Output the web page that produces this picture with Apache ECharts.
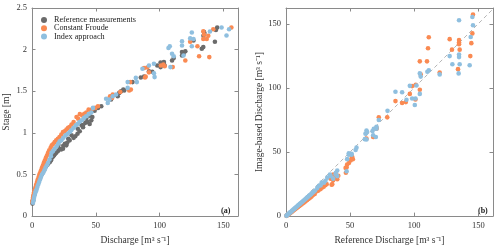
<!DOCTYPE html>
<html>
<head>
<meta charset="utf-8">
<script src="https://cdn.jsdelivr.net/npm/echarts@6/dist/echarts.min.js"></script>
<style>
html,body{margin:0;padding:0;background:#fff;}
#chart{width:500px;height:250px;}
</style>
</head>
<body>
<div id="chart"></div>
<script>
// ---------- Panel (a): stage vs discharge ----------
const refQ = [0.4,0.6,0.7,0.9,1.0,1.2,1.4,1.7,2.0,2.3,2.7,3.1,3.6,4.1,4.7,5.3,5.9,6.6,7.2,7.9,8.7,9.4,10.1,11.0,11.4,12.2,13.1,14.0,14.9,15.6,16.5,17.3,18.1,19.0,20.2,21.7,20.7,22.8,24.3,24.5,25.8,26.9,27.6,28.4,29.5,31.0,32.6,33.9,35.7,35.9,37.4,38.8,39.8,40.0,41.8,42.6,43.6,45.2,45.2,46.5,47.3,
  49.1,51.7,54.3,62.0,67.2,68.4,69.8,71.6,72.3,78.8,85.3,87.9,91.7,94.3,98.2,100.8,100.8,103.4,103.9,103.4,109.8,111.1,117.6,117.6,118.8,120.2,126.6,133.1,134.3,134.4,135.1,134.9,143.4,144.2,145.2];
const refH = [0.15,0.17,0.19,0.18,0.21,0.22,0.24,0.26,0.28,0.30,0.32,0.34,0.36,0.38,0.40,0.43,0.45,0.47,0.49,0.51,0.53,0.55,0.58,0.60,0.61,0.62,0.64,0.65,0.67,0.70,0.715,0.73,0.75,0.76,0.78,0.81,0.853,0.80,0.81,0.845,0.87,0.85,0.88,0.93,0.91,0.97,0.94,0.96,0.99,1.05,1.02,1.095,1.09,1.068,1.12,1.17,1.13,1.107,1.206,1.15,1.19,
  1.265,1.30,1.32,1.40,1.44,1.48,1.50,1.52,1.51,1.61,1.665,1.676,1.74,1.735,1.81,1.79,1.845,1.85,1.81,1.825,1.87,1.90,1.93,1.97,1.95,1.98,2.11,2.01,2.03,2.166,2.19,2.21,2.095,2.235,2.265];

const froudeQ = [0.3,0.5,0.8,1.1,1.5,1.9,2.3,2.8,3.3,3.9,4.5,5.2,5.8,6.4,7.1,7.8,8.6,9.3,10.1,10.9,11.8,12.6,13.5,14.6,15.5,16.8,17.8,19.0,20.3,21.6,23.0,24.3,25.6,27.0,28.3,29.5,31.0,32.6,34.9,36.2,37.5,39.4,41.0,42.6,44.4,46.0,47.5,49.6,51.7,
  61.2,62.8,63.3,69.2,76.2,77.5,77.0,88.6,89.1,87.9,90.4,91.7,101.0,103.0,104.0,110.3,120.2,131.0,139.0,124.0,129.7,134.3,134.9,137.0,138.2,134.3,142.1,156.3];
const froudeH = [0.17,0.19,0.22,0.25,0.28,0.30,0.32,0.35,0.38,0.41,0.44,0.47,0.50,0.52,0.55,0.58,0.61,0.64,0.67,0.70,0.73,0.76,0.79,0.82,0.85,0.87,0.89,0.91,0.93,0.95,0.98,1.01,1.02,1.04,1.06,1.07,1.10,1.13,1.19,1.17,1.225,1.21,1.23,1.245,1.28,1.27,1.29,1.30,1.32,
  1.44,1.42,1.46,1.49,1.51,1.52,1.61,1.665,1.675,1.78,1.785,1.727,1.81,1.82,1.80,1.79,1.87,1.92,1.91,2.095,2.04,2.127,2.18,2.127,2.166,2.22,2.245,2.265];

const indexQ = [0.8,1.2,1.6,2.1,2.6,3.0,3.6,4.2,4.9,5.6,6.3,7.0,7.8,8.8,9.7,10.6,11.6,12.6,13.7,14.8,15.3,16.4,17.8,19.3,20.6,21.7,23.0,24.6,26.3,28.0,29.6,30.8,32.6,34.4,36.0,37.2,39.0,40.8,42.5,44.4,46.5,47.8,
  58.1,59.4,60.7,63.3,65.9,75.0,75.0,81.4,82.2,86.6,91.7,95.6,96.1,95.6,107.0,108.0,108.5,109.8,111.1,117.6,117.6,118.8,124.0,125.3,126.6,125.3,139.5,148.6,152.5,154.5];
const indexH = [0.16,0.19,0.22,0.25,0.28,0.30,0.32,0.35,0.38,0.41,0.44,0.47,0.50,0.52,0.55,0.58,0.61,0.64,0.68,0.72,0.76,0.78,0.81,0.84,0.87,0.90,0.91,0.94,0.97,0.99,1.01,1.03,1.06,1.09,1.11,1.13,1.15,1.18,1.20,1.225,1.245,1.30,
  1.41,1.36,1.40,1.44,1.46,1.54,1.61,1.66,1.61,1.77,1.81,1.715,1.67,1.83,2.02,2.04,1.79,1.95,1.92,2.05,2.10,1.93,2.135,2.04,2.127,2.206,2.217,2.265,2.17,2.245];

// ---------- Panel (b): image-based vs reference discharge ----------
const froudeRefQ = [0.3,0.6,0.9,1.3,1.7,2.1,2.6,3.1,3.6,4.2,4.8,5.4,6.0,6.7,7.3,8.0,8.8,9.5,10.3,11.1,12.0,12.9,13.8,14.7,15.6,16.5,17.4,18.3,19.2,20.1,21.3,22.4,23.9,25.0,26.2,27.0,28.3,29.4,30.6,31.7,
  34.8,35.6,36.1,36.8,36.8,38.7,40.0,40.8,46.5,46.7,47.3,47.7,49.1,50.4,51.2,51.6,52.2,62.8,68.0,68.5,70.6,70.6,
  72.4,79.0,85.4,90.6,93.5,96.6,98.4,101.0,101.2,104.4,104.4,105.1,110.0,110.8,111.4,119.9,127.7,129.5,134.2,135.0,135.0,135.0,135.5,143.8,144.6,145.4,145.9];
const froudeEstQ = [0.2,0.4,0.7,1.0,1.3,1.6,2.0,2.3,2.7,3.2,3.6,4.1,4.6,5.1,5.5,6.1,6.7,7.2,7.8,8.4,9.1,9.8,10.5,11.2,11.9,12.6,13.3,14.0,14.7,15.4,16.6,17.2,19.3,19.8,20.8,21.1,22.4,22.9,24.1,24.9,
  29.2,24.4,24.9,28.0,32.5,30.0,28.7,31.5,37.6,33.8,38.1,40.2,41.4,43.4,45.2,46.5,44.4,60.4,61.7,61.7,68.1,68.8,
  77.0,77.0,89.7,88.2,88.9,95.3,101.4,90.9,102.4,98.6,120.7,110.5,120.7,130.9,139.5,112.0,138.0,129.8,114.6,137.4,135.4,134.1,129.8,124.8,134.9,142.5,157.2];

const indexRefQ = [0.3,0.6,1.0,1.4,1.8,2.3,2.8,3.3,3.9,4.5,5.1,5.8,6.4,7.1,7.8,8.5,9.3,10.0,10.8,11.6,12.5,13.4,14.3,15.2,16.1,17.0,17.9,18.8,19.7,20.6,21.6,22.7,24.4,25.7,27.0,27.8,29.6,30.8,
  32.2,34.3,34.8,36.8,38.7,38.9,40.0,40.0,47.3,47.7,49.0,49.0,51.2,51.2,54.3,55.0,61.5,62.0,62.8,62.8,63.3,67.5,68.0,68.5,70.1,70.6,70.6,
  72.4,79.2,85.4,90.6,94.0,96.6,98.4,100.5,101.0,101.8,104.4,104.4,105.1,110.3,111.4,119.9,127.7,129.8,134.7,135.0,135.0,135.0,135.5,143.3,144.1,145.4,145.9];
const indexEstQ = [0.3,0.5,0.9,1.2,1.6,2.0,2.5,2.9,3.4,3.9,4.5,5.1,5.6,6.2,6.9,7.5,8.2,8.8,9.5,10.2,11.0,11.8,12.6,13.3,14.2,14.9,15.8,16.5,17.3,18.2,19.0,20.0,22.0,23.6,24.0,26.1,26.1,27.5,
  30.0,32.5,31.2,29.2,32.5,33.8,35.6,31.2,35.0,44.4,47.8,49.0,47.8,48.5,51.6,53.4,60.0,64.3,66.8,59.7,65.5,66.3,63.0,68.1,61.7,68.1,69.6,
  74.9,82.1,97.0,96.6,90.7,101.6,91.7,86.7,91.7,101.9,95.3,111.3,108.8,112.6,113.8,110.5,124.8,118.4,111.3,152.7,126.0,124.0,118.4,117.6,139.7,155.3,148.9];

const identityLine = [0, 161];
const seriesNames = ['Reference measurements', 'Constant Froude', 'Index approach'];
const stageTicks = [0, 0.5, 1, 1.5, 2, 2.5];

// ---------- build ----------
const zip = (a, b) => a.map((v, i) => [v, b[i]]);
const C_REF = '#6b6b6b', C_CF = '#fa8a52', C_IDX = '#8fbfdf';
const FONT = 'Liberation Serif';
const frame = '#8a8a8a';

function axisBase(extra, hideMax) {
  return Object.assign({
    axisLine: { show: true, onZero: false, lineStyle: { color: frame, width: 1 } },
    axisTick: { show: true, inside: true, length: 3.5, lineStyle: { color: frame } },
    splitLine: { show: false },
    axisLabel: { show: true, color: '#333', fontFamily: FONT, fontSize: 8.5, margin: 5, showMaxLabel: !hideMax },
    nameTextStyle: { color: '#333', fontFamily: FONT, fontSize: 9.5 },
    nameLocation: 'middle'
  }, extra);
}
function mirror(extra) {
  const a = axisBase(extra);
  a.axisLabel = { show: false };
  return a;
}

const chart = echarts.init(document.getElementById('chart'), null, { renderer: 'canvas' });
const scat = (name, color, xi, data) => ({
  name, type: 'scatter', xAxisIndex: xi, yAxisIndex: xi, data,
  symbol: 'circle', symbolSize: 4.6, itemStyle: { color, opacity: 1 }, silent: true
});

chart.setOption({
  animation: false,
  backgroundColor: '#fff',
  grid: [
    { left: 30, top: 8, width: 208, height: 213 },
    { left: 286, top: 8, width: 207, height: 213 }
  ],
  xAxis: [
    axisBase({ gridIndex: 0, type: 'value', min: 0, max: 161.5, interval: 50, position: 'bottom',
      name: 'Discharge [m³ s⁻¹]', nameGap: 18 }, true),
    mirror({ gridIndex: 0, type: 'value', min: 0, max: 161.5, interval: 50, position: 'top' }),
    axisBase({ gridIndex: 1, type: 'value', min: 0, max: 161.5, interval: 50, position: 'bottom',
      name: 'Reference Discharge [m³ s⁻¹]', nameGap: 18 }, true),
    mirror({ gridIndex: 1, type: 'value', min: 0, max: 161.5, interval: 50, position: 'top' })
  ],
  yAxis: [
    axisBase({ gridIndex: 0, type: 'value', min: stageTicks[0], max: stageTicks[stageTicks.length - 1], interval: 0.5, position: 'left',
      name: 'Stage [m]', nameGap: 21 }, false),
    mirror({ gridIndex: 0, type: 'value', min: stageTicks[0], max: stageTicks[stageTicks.length - 1], interval: 0.5, position: 'right' }),
    axisBase({ gridIndex: 1, type: 'value', min: 0, max: 162.3, interval: 50, position: 'left',
      name: 'Image-based Discharge [m³ s⁻¹]', nameGap: 22 }, true),
    mirror({ gridIndex: 1, type: 'value', min: 0, max: 162.3, interval: 50, position: 'right' })
  ],
  legend: {
    data: seriesNames.map(n => ({ name: n, icon: 'circle' })),
    orient: 'vertical', left: 36, top: 11,
    itemWidth: 6, itemHeight: 6, itemGap: 0.2,
    textStyle: { fontFamily: FONT, fontSize: 8.2, color: '#222', padding: [0, 0, 0, 2] },
    selectedMode: false
  },
  graphic: [
    { type: 'text', left: 221, top: 207, style: { text: '(a)', font: 'bold 8px "Liberation Serif"', fill: '#222' } },
    { type: 'text', left: 478, top: 207, style: { text: '(b)', font: 'bold 8px "Liberation Serif"', fill: '#222' } }
  ],
  series: [
    scat(seriesNames[0], C_REF, 0, zip(refQ, refH)),
    scat(seriesNames[1], C_CF, 0, zip(froudeQ, froudeH)),
    scat(seriesNames[2], C_IDX, 0, zip(indexQ, indexH)),
    {
      type: 'line', xAxisIndex: 2, yAxisIndex: 2, data: zip(identityLine, identityLine),
      symbol: 'none', silent: true, z: 1,
      lineStyle: { color: '#b5b5b5', width: 1, type: [4, 3] }
    },
    scat(seriesNames[1], C_CF, 2, zip(froudeRefQ, froudeEstQ)),
    scat(seriesNames[2], C_IDX, 2, zip(indexRefQ, indexEstQ))
  ]
});
</script>
</body>
</html>
